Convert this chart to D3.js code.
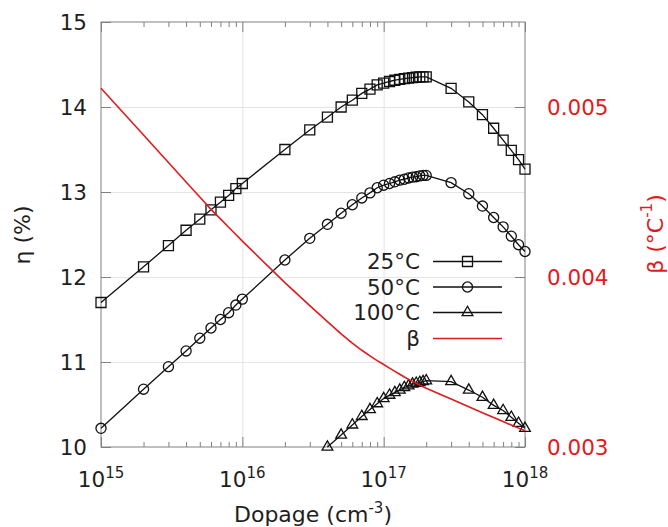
<!DOCTYPE html>
<html>
<head>
<meta charset="utf-8">
<script src="https://cdn.jsdelivr.net/npm/d3@7"></script>
<style>
  html, body { margin: 0; padding: 0; background: #ffffff; }
  svg { display: block; }
  text { font-family: "DejaVu Sans", sans-serif; }
</style>
</head>
<body>
<script>
// ---------------- DATA ----------------
const dopage = [
  1e15, 2e15, 3e15, 4e15, 5e15, 6e15, 7e15, 8e15, 9e15,
  1e16, 2e16, 3e16, 4e16, 5e16, 6e16, 7e16, 8e16, 9e16,
  1e17, 1.1e17, 1.2e17, 1.3e17, 1.4e17, 1.5e17, 1.6e17, 1.7e17, 1.8e17, 1.9e17, 2e17,
  3e17, 4e17, 5e17, 6e17, 7e17, 8e17, 9e17, 1e18
];
const eta25 = [
  11.70, 12.12, 12.37, 12.55, 12.68, 12.79, 12.88, 12.96, 13.04,
  13.10, 13.50, 13.73, 13.88, 14.00, 14.08, 14.16, 14.21, 14.26,
  14.28, 14.30, 14.315, 14.325, 14.335, 14.34, 14.345, 14.35, 14.355, 14.355, 14.355,
  14.22, 14.06, 13.91, 13.75, 13.61, 13.49, 13.38, 13.27
];
const eta50 = [
  10.22, 10.68, 10.945, 11.13, 11.28, 11.40, 11.50, 11.58, 11.67,
  11.74, 12.20, 12.455, 12.62, 12.75, 12.85, 12.93, 12.99, 13.05,
  13.08, 13.10, 13.12, 13.14, 13.15, 13.165, 13.175, 13.18, 13.19, 13.195, 13.195,
  13.11, 12.98, 12.835, 12.70, 12.59, 12.48, 12.38, 12.30
];
const eta100 = [
  null, null, null, null, null, null, null, null, null,
  null, null, null, 10.00, 10.14, 10.26, 10.36, 10.44, 10.51,
  10.57, 10.61, 10.64, 10.67, 10.70, 10.72, 10.74, 10.75, 10.76, 10.77, 10.78,
  10.77, 10.67, 10.585, 10.49, 10.43, 10.35, 10.28, 10.22
];
const beta = [
  0.005110, 0.004835, 0.004674, 0.004559, 0.004471, 0.004398, 0.004342, 0.004293, 0.004250,
  0.004211, 0.003967, 0.003832, 0.003738, 0.003666, 0.003611, 0.003569, 0.003536, 0.003508,
  0.003485, 0.003464, 0.003445, 0.003428, 0.003412, 0.003398, 0.003386, 0.003375, 0.003364, 0.003355, 0.003346,
  0.003282, 0.003237, 0.003202, 0.003174, 0.003150, 0.003129, 0.003111, 0.003095
];
const seriesNames = ["25°C", "50°C", "100°C", "β"];
const xMajorTicks = [1e15, 1e16, 1e17, 1e18];
const xExponents = ["15", "16", "17", "18"];
const xMinorTicks = [2e15,3e15,4e15,5e15,6e15,7e15,8e15,9e15,
                     2e16,3e16,4e16,5e16,6e16,7e16,8e16,9e16,
                     2e17,3e17,4e17,5e17,6e17,7e17,8e17,9e17];
const yTicks = [10, 11, 12, 13, 14, 15];
const y2Ticks = [0.003, 0.004, 0.005];

// ---------------- LAYOUT ----------------
const W = 668, H = 527;
const L = 101, R = 525, T = 22, B = 447;
const RED = "#e31a1c";
const AXIS = "#808080";
const GRID = "#e4e4e4";
const INK = "#1e1e1e";
const FS = 21.5;
const LFS = 22;

const svg = d3.select("body").append("svg").attr("width", W).attr("height", H);
svg.append("rect").attr("width", W).attr("height", H).attr("fill", "#fff");

const x = d3.scaleLog().domain([1e15, 1e18]).range([L, R]);
const y = d3.scaleLinear().domain([10, 15]).range([B, T]);
const y2 = d3.scaleLinear().domain([0.003, 0.0055]).range([B, T]);

function styleAxis(g, color) {
  g.select(".domain").remove();
  g.selectAll(".tick line").attr("stroke", color || AXIS).attr("stroke-width", 1);
}

// grid
svg.append("g").attr("transform", `translate(0,${B})`)
  .call(d3.axisBottom(x).tickValues([1e16, 1e17]).tickSize(-(B - T)).tickFormat(""))
  .call(g => { g.select(".domain").remove(); g.selectAll("line").attr("stroke", GRID); });
svg.append("g").attr("transform", `translate(${L},0)`)
  .call(d3.axisLeft(y).tickValues([11, 12, 13, 14]).tickSize(-(R - L)).tickFormat(""))
  .call(g => { g.select(".domain").remove(); g.selectAll("line").attr("stroke", GRID); });

// bottom axis major + minor
svg.append("g").attr("transform", `translate(0,${B})`)
  .call(d3.axisBottom(x).tickValues(xMajorTicks).tickSizeInner(-10).tickSizeOuter(0).tickFormat(""))
  .call(g => styleAxis(g));
svg.append("g").attr("transform", `translate(0,${B})`)
  .call(d3.axisBottom(x).tickValues(xMinorTicks).tickSizeInner(-5).tickSizeOuter(0).tickFormat(""))
  .call(g => styleAxis(g));
// top axis mirrored
svg.append("g").attr("transform", `translate(0,${T})`)
  .call(d3.axisTop(x).tickValues(xMajorTicks).tickSizeInner(-10).tickSizeOuter(0).tickFormat(""))
  .call(g => styleAxis(g));
svg.append("g").attr("transform", `translate(0,${T})`)
  .call(d3.axisTop(x).tickValues(xMinorTicks).tickSizeInner(-5).tickSizeOuter(0).tickFormat(""))
  .call(g => styleAxis(g));

// x tick labels with superscripts
const xl = svg.append("g");
xMajorTicks.forEach((v, i) => {
  const t = xl.append("text").attr("x", x(v)).attr("y", 487)
    .attr("text-anchor", "middle").attr("font-size", FS).attr("fill", INK);
  t.append("tspan").text("10");
  t.append("tspan").attr("dy", -9).attr("font-size", 15).text(xExponents[i]);
});

// left axis
svg.append("g").attr("transform", `translate(${L},0)`)
  .call(d3.axisLeft(y).tickValues(yTicks).tickSizeInner(-10).tickSizeOuter(0).tickPadding(14)
    .tickFormat(d3.format("d")))
  .call(g => {
    styleAxis(g);
    g.selectAll("text").attr("font-size", FS).attr("fill", INK)
      .attr("font-family", "DejaVu Sans").attr("dy", "0.36em");
  });

// right axis
svg.append("g").attr("transform", `translate(${R},0)`)
  .call(d3.axisRight(y2).tickValues(y2Ticks).tickSizeInner(-10).tickSizeOuter(0).tickPadding(22)
    .tickFormat(d3.format(".3f")))
  .call(g => {
    styleAxis(g);
    g.selectAll("text").attr("font-size", FS).attr("fill", RED)
      .attr("font-family", "DejaVu Sans").attr("dy", "0.36em");
  });

// border
svg.append("rect").attr("x", L).attr("y", T).attr("width", R - L).attr("height", B - T)
  .attr("fill", "none").attr("stroke", AXIS).attr("stroke-width", 1);

// axis titles
svg.append("text").attr("transform", `translate(22,235) rotate(-90)`)
  .attr("text-anchor", "middle").attr("dominant-baseline", "central")
  .attr("font-size", LFS).attr("fill", INK).text("η (%)");

const rt = svg.append("text").attr("transform", `translate(655,234) rotate(-90)`)
  .attr("text-anchor", "middle").attr("dominant-baseline", "central")
  .attr("font-size", LFS).attr("fill", RED);
rt.append("tspan").text("β (°C");
rt.append("tspan").attr("dy", -8).attr("font-size", 15).text("-1");
rt.append("tspan").attr("dy", 8).text(")");

const xt = svg.append("text").attr("x", 313).attr("y", 522)
  .attr("text-anchor", "middle").attr("font-size", LFS).attr("fill", INK);
xt.append("tspan").text("Dopage (cm");
xt.append("tspan").attr("dy", -9).attr("font-size", 15).text("-3");
xt.append("tspan").attr("dy", 9).text(")");

// ---------------- SERIES ----------------
const pts = (vals) => dopage.map((d, i) => ({ x: d, v: vals[i] })).filter(p => p.v != null);

const lineY = d3.line().x(p => x(p.x)).y(p => y(p.v));
const lineY2 = d3.line().x(p => x(p.x)).y(p => y2(p.v));

const plot = svg.append("g");

const sym = {
  sq: d3.symbol().type(d3.symbolSquare).size(100),
  ci: d3.symbol().type(d3.symbolCircle).size(80),
  tr: d3.symbol().type(d3.symbolTriangle).size(50)
};

const blackSeries = [
  { vals: eta25, s: sym.sq },
  { vals: eta50, s: sym.ci },
  { vals: eta100, s: sym.tr }
];

blackSeries.forEach(sr => {
  const p = pts(sr.vals);
  plot.append("path").datum(p).attr("d", lineY)
    .attr("fill", "none").attr("stroke", "#111").attr("stroke-width", 1.3);
  plot.selectAll(null).data(p).enter().append("path")
    .attr("transform", d => `translate(${x(d.x)},${y(d.v)})`)
    .attr("d", sr.s).attr("fill", "none").attr("stroke", "#111").attr("stroke-width", 1.3);
});

plot.append("path").datum(pts(beta)).attr("d", lineY2)
  .attr("fill", "none").attr("stroke", RED).attr("stroke-width", 1.6);

// ---------------- LEGEND ----------------
const legRows = [261.5, 287, 312.5, 338.5];
const legSyms = [sym.sq, sym.ci, sym.tr, null];
const leg = svg.append("g");
seriesNames.forEach((name, i) => {
  const yy = legRows[i];
  leg.append("text").attr("x", 420).attr("y", yy).attr("dy", "0.36em")
    .attr("text-anchor", "end").attr("font-size", FS).attr("fill", INK).text(name);
  leg.append("line").attr("x1", 433).attr("x2", 502).attr("y1", yy).attr("y2", yy)
    .attr("stroke", i === 3 ? RED : "#111").attr("stroke-width", i === 3 ? 1.6 : 1.3);
  if (legSyms[i]) {
    leg.append("path").attr("transform", `translate(467.5,${yy})`).attr("d", legSyms[i])
      .attr("fill", "none").attr("stroke", "#111").attr("stroke-width", 1.3);
  }
});
</script>
</body>
</html>
